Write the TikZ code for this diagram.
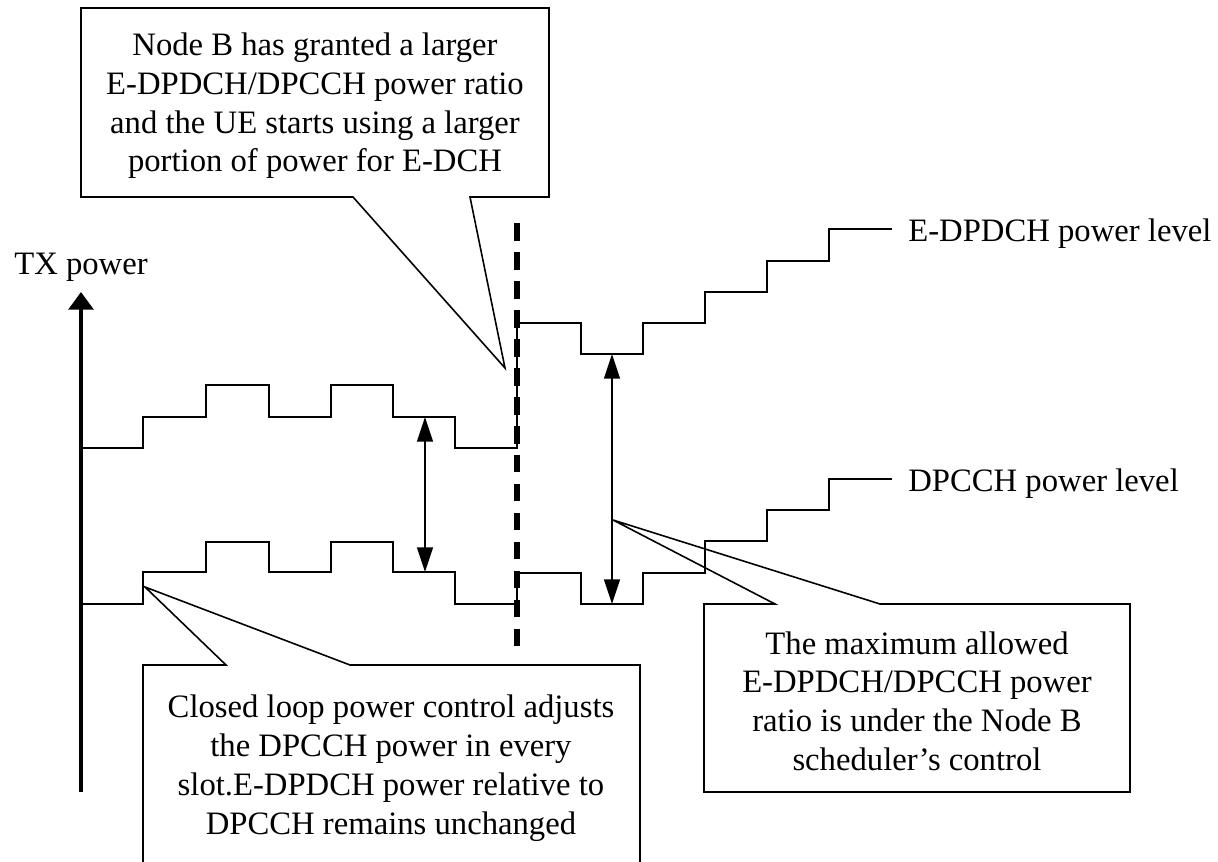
\documentclass[tikz,border=0pt]{standalone}
\usepackage{fontspec}
\setmainfont{Liberation Serif}
\usetikzlibrary{arrows.meta}

\tikzset{
    level/.style={line width=0.9pt},
    callout/.style={line width=0.9pt,line join=miter},
    note/.style={align=center,inner sep=0pt,font=\fontsize{18.6}{22}\selectfont},
    ratio/.style={line width=0.9pt,{Triangle[length=14pt,width=9pt]}-{Triangle[length=14pt,width=9pt]}}
}

\begin{document}
\begin{tikzpicture}[x=0.02cm,y=-0.02cm]
    \useasboundingbox (0,0) rectangle (1218,862);

    \coordinate (axisBot) at (81,792);
    \coordinate (axisTop) at (81,292);
    \draw[line width=2.2pt,-{Triangle[length=10pt,width=14pt]}] (axisBot) -- (axisTop);
    \node[note] (txLabel) at (81,267) {TX power};

    \draw[level] (81,448) -- (143,448) -- (143,417) -- (206,417) -- (206,385) -- (269,385)
        -- (269,417) -- (331,417) -- (331,385) -- (393,385) -- (393,417) -- (455,417)
        -- (455,448) -- (517,448) -- (517,323) -- (581,323) -- (581,354) -- (643,354)
        -- (643,323) -- (705,323) -- (705,292) -- (767,292) -- (767,261) -- (829,261)
        -- (829,229) -- (892,229);
    \draw[level] (81,604) -- (143,604) -- (143,572) -- (206,572) -- (206,542) -- (269,542)
        -- (269,572) -- (331,572) -- (331,542) -- (393,542) -- (393,572) -- (455,572)
        -- (455,604) -- (517,604) -- (517,573) -- (581,573) -- (581,604) -- (643,604)
        -- (643,573) -- (705,573) -- (705,541) -- (767,541) -- (767,510) -- (829,510)
        -- (829,479) -- (892,479);
    \node[note,anchor=west] (edpdchLabel) at (908,234) {E-DPDCH power level};
    \node[note,anchor=west] (dpcchLabel) at (908,484) {DPCCH power level};

    \coordinate (grantTop) at (517,223);
    \coordinate (grantBot) at (517,646);
    \draw[line width=3.6pt,dash pattern=on 10pt off 6.5pt] (grantTop) -- (grantBot);

    \coordinate (gapTopA) at (425,417);
    \coordinate (gapBotA) at (425,572);
    \draw[ratio] (gapTopA) -- (gapBotA);
    \coordinate (gapTopB) at (612,354);
    \coordinate (gapBotB) at (612,604);
    \draw[ratio] (gapTopB) -- (gapBotB);

    \coordinate (grantTip) at (505,368);
    \draw[callout] (81,8) -- (549,8) -- (549,197) -- (470,197) -- (grantTip) -- (353,197)
        -- (81,197) -- cycle;
    \node[note] (grantNote) at (315,106) {Node B has granted a larger\\
        E-DPDCH/DPCCH power ratio\\and the UE starts using a larger\\
        portion of power for E-DCH};

    \coordinate (loopTip) at (145,587);
    \draw[callout] (143,870) -- (143,665) -- (226,665) -- (loopTip) -- (350,665)
        -- (640,665) -- (640,870);
    \node[note,font=\fontsize{18.6}{22.3}\selectfont] (loopNote) at (391,768)
        {Closed loop power control adjusts\\the DPCCH power in every\\
        slot.E-DPDCH power relative to\\DPCCH remains unchanged};

    \coordinate (ratioTip) at (613,520);
    \draw[callout] (704,604) -- (775,604) -- (ratioTip) -- (880,604) -- (1130,604)
        -- (1130,792) -- (704,792) -- cycle;
    \node[note] (ratioNote) at (917,701) {The maximum allowed\\
        E-DPDCH/DPCCH power\\ratio is under the Node B\\scheduler’s control};

\end{tikzpicture}
\end{document}
